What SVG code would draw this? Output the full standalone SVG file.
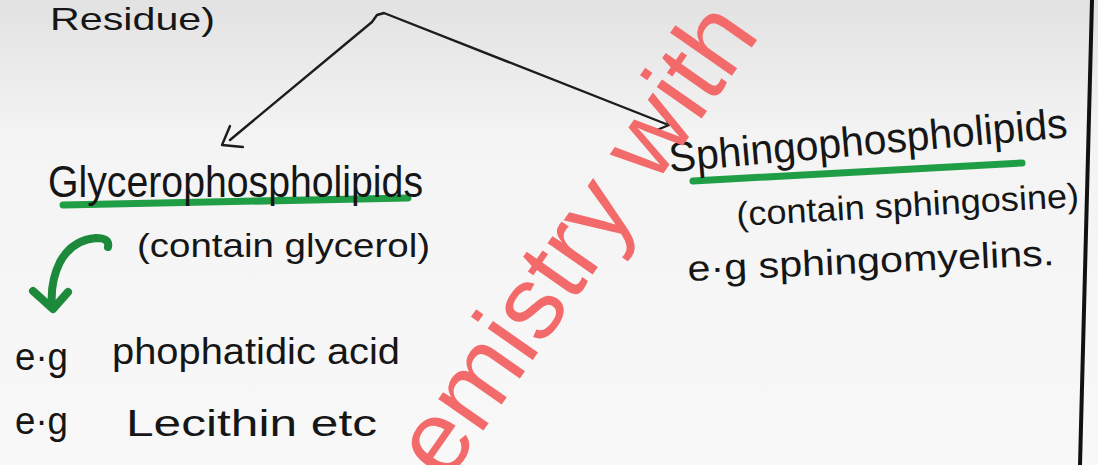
<svg xmlns="http://www.w3.org/2000/svg" width="1098" height="465" viewBox="0 0 1098 465">
  <defs>
    <linearGradient id="paper" x1="0" y1="0" x2="0" y2="1">
      <stop offset="0" stop-color="#e2e2e2"/>
      <stop offset="0.3" stop-color="#f4f4f4"/>
      <stop offset="1" stop-color="#f8f8f8"/>
    </linearGradient>
    <style>
      .hw { font-family: "Liberation Sans", "DejaVu Sans", sans-serif; fill: #161616; }
      .ink { fill: none; stroke: #1c1c1c; stroke-width: 2.4; stroke-linecap: round; stroke-linejoin: round; }
      .hl { fill: none; stroke: #1f9e45; stroke-width: 7; stroke-linecap: round; }
      .garrow { fill: none; stroke: #1d8a3b; stroke-width: 8; stroke-linecap: round; stroke-linejoin: round; }
      .wm { font-family: "Liberation Sans", "Arial", sans-serif; fill: #f36a6a; font-size: 104px; }
    </style>
  </defs>

  <rect x="0" y="0" width="1098" height="465" fill="url(#paper)"/>

  <!-- page edge line -->
  <line x1="1092" y1="0" x2="1080" y2="465" stroke="#111" stroke-width="4"/>

  <g id="residue">
    <text class="hw" x="50" y="30" font-size="32" textLength="165" lengthAdjust="spacingAndGlyphs">Residue)</text>
  </g>

  <g id="connectors">
    <path class="ink" d="M 230,140 L 372,22 L 377,15 L 384,13 L 666,124"/>
    <path class="ink" d="M 230,126 L 222,145 L 243,147"/>
    <path class="ink" d="M 664,114 L 669,125 L 657,130"/>
    <path class="garrow" d="M 108,247 Q 110,238 96,238 Q 72,240 60,262 Q 50,282 52,306"/>
    <path class="garrow" d="M 33,291 L 53,309 L 68,292"/>
  </g>

  <g id="glycero">
    <line class="hl" x1="63" y1="205" x2="408" y2="198"/>
    <text class="hw" x="48" y="197" font-size="44" textLength="375" lengthAdjust="spacingAndGlyphs">Glycerophospholipids</text>
    <text class="hw" x="137" y="257" font-size="34" textLength="293" lengthAdjust="spacingAndGlyphs">(contain glycerol)</text>
    <text class="hw" x="15" y="370" font-size="38" textLength="53" lengthAdjust="spacingAndGlyphs">e·g</text>
    <text class="hw" x="112" y="364" font-size="36" textLength="288" lengthAdjust="spacingAndGlyphs">phophatidic acid</text>
    <text class="hw" x="15" y="434" font-size="38" textLength="53" lengthAdjust="spacingAndGlyphs">e·g</text>
    <text class="hw" x="126" y="436" font-size="36" textLength="251" lengthAdjust="spacingAndGlyphs">Lecithin etc</text>
  </g>

  <g id="sphingo">
    <line class="hl" x1="693" y1="181" x2="1022" y2="163"/>
    <text class="hw" x="670" y="172" font-size="42" textLength="400" lengthAdjust="spacingAndGlyphs" transform="rotate(-5 670 172)">Sphingophospholipids</text>
    <text class="hw" x="737" y="226" font-size="34" textLength="343" lengthAdjust="spacingAndGlyphs" transform="rotate(-3.2 737 226)">(contain sphingosine)</text>
    <text class="hw" x="688" y="281" font-size="36" textLength="367" lengthAdjust="spacingAndGlyphs" transform="rotate(-2.5 688 281)">e·g  sphingomyelins.</text>
  </g>

  <g id="watermark">
    <text class="wm" transform="translate(446,484) rotate(-55)">emistry with</text>
  </g>
</svg>
